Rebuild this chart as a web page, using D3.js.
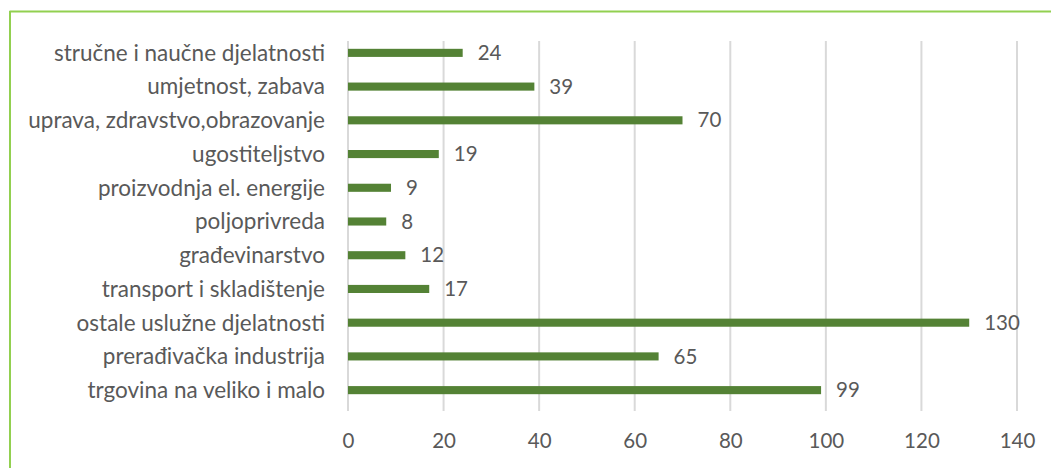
<!DOCTYPE html>
<html><head><meta charset="utf-8">
<script src="https://cdn.jsdelivr.net/npm/d3@7"></script>
<style>body{margin:0;background:#fff}svg{display:block}text{font-family:Lato,sans-serif;fill:#595959}</style>
</head><body>
<script>
const categories = ["stručne i naučne djelatnosti","umjetnost, zabava","uprava, zdravstvo,obrazovanje","ugostiteljstvo","proizvodnja el. energije","poljoprivreda","građevinarstvo","transport i skladištenje","ostale uslužne djelatnosti","prerađivačka industrija","trgovina na veliko i malo"];
const values = [24,39,70,19,9,8,12,17,130,65,99];
const ticks = [0,20,40,60,80,100,120,140];

const W=1051,H=468,FS=22.5,FN=20.5;
const svg=d3.select("body").append("svg").attr("width",W).attr("height",H);
// border
svg.append("line").attr("x1",9.5).attr("x2",W).attr("y1",11.5).attr("y2",11.5).attr("stroke","#92d050").attr("stroke-width",2);
svg.append("line").attr("x1",10).attr("x2",10).attr("y1",11).attr("y2",H).attr("stroke","#92d050").attr("stroke-width",2);

const x=d3.scaleLinear().domain([0,140]).range([348,1017]);
const y=d3.scaleBand().domain(categories).range([36,407]).paddingInner(0.76).paddingOuter(0.38);

svg.append("g").selectAll("line").data(ticks).join("line")
 .attr("x1",d=>x(d)).attr("x2",d=>x(d)).attr("y1",41).attr("y2",411)
 .attr("stroke","#d9d9d9").attr("stroke-width",2);

const xa=d3.axisBottom(x).tickValues(ticks).tickSize(0).tickPadding(0);
const gx=svg.append("g").attr("transform","translate(0,448)").call(xa);
gx.select(".domain").remove();
gx.selectAll("text").attr("font-size",FN).style("font-family","Lato,sans-serif").attr("fill","#595959").attr("dy","0");

const ya=d3.axisLeft(y).tickSize(0).tickPadding(0);
const gy=svg.append("g").attr("transform","translate(325,0)").call(ya);
gy.select(".domain").remove();
gy.selectAll("text").attr("font-size",FS).style("font-family","Lato,sans-serif").attr("fill","#595959").attr("dy","0.35em");

svg.append("g").selectAll("rect").data(values).join("rect")
 .attr("x",x(0)).attr("y",(d,i)=>y(categories[i]))
 .attr("width",d=>x(d)-x(0)).attr("height",y.bandwidth()).attr("fill","#548235");

svg.append("g").selectAll("text").data(values).join("text")
 .attr("x",d=>x(d)+15).attr("y",(d,i)=>y(categories[i])+y.bandwidth()/2)
 .attr("dy","0.35em").attr("font-size",FN).text(d=>d);
</script>
</body></html>
